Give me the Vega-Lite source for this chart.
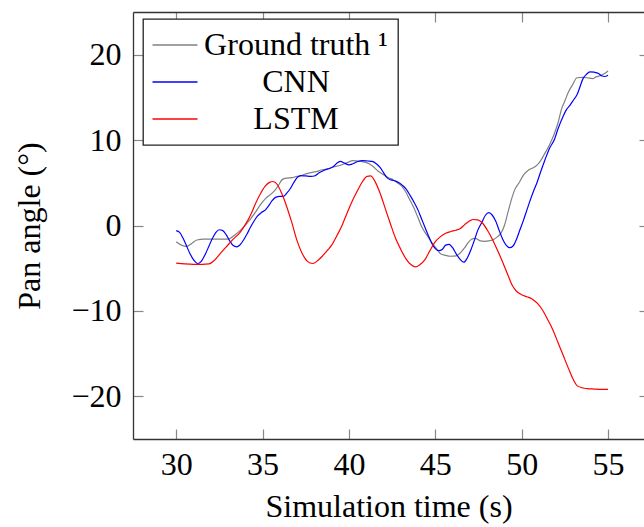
{
  "$schema": "https://vega.github.io/schema/vega-lite/v6.json",
  "width": 511,
  "height": 427,
  "autosize": {"type": "none"},
  "padding": {"left": 133, "top": 12, "right": 0, "bottom": 88},
  "background": "white",
  "config": {
    "view": {"stroke": null},
    "font": "Liberation Serif, Times New Roman, serif",
    "axis": {
      "grid": false,
      "labelFont": "Liberation Serif, Times New Roman, serif",
      "labelFontSize": 32,
      "labelColor": "black",
      "titleFont": "Liberation Serif, Times New Roman, serif",
      "titleFontSize": 32,
      "titleFontWeight": "normal",
      "titleColor": "black",
      "domainColor": "#333333",
      "domainWidth": 1.3,
      "tickColor": "#888888",
      "tickWidth": 1.2,
      "tickSize": -10
    },
    "legend": {
      "orient": "none",
      "legendX": 10,
      "legendY": 7,
      "fillColor": "white",
      "strokeColor": "#222222",
      "strokeWidth": 1.3,
      "padding": 10,
      "cornerRadius": 0,
      "symbolType": "M-2.25,0H2.25",
      "symbolSize": 400,
      "symbolStrokeWidth": 1.3,
      "symbolOffset": 6,
      "labelFont": "Liberation Serif, Times New Roman, serif",
      "labelFontSize": 32,
      "labelColor": "black",
      "labelAlign": "center",
      "labelOffset": 105,
      "labelLimit": 400,
      "rowPadding": 5
    }
  },
  "datasets": {
    "series": [
      {"t":30.0,"v":-1.9,"s":"Ground truth ¹"},{"t":30.3,"v":-2.3,"s":"Ground truth ¹"},{"t":30.6,"v":-2.45,"s":"Ground truth ¹"},{"t":30.9,"v":-2.1,"s":"Ground truth ¹"},{"t":31.2,"v":-1.7,"s":"Ground truth ¹"},{"t":31.6,"v":-1.6,"s":"Ground truth ¹"},{"t":32.0,"v":-1.6,"s":"Ground truth ¹"},{"t":32.5,"v":-1.6,"s":"Ground truth ¹"},{"t":33.0,"v":-1.6,"s":"Ground truth ¹"},{"t":33.4,"v":-1.1,"s":"Ground truth ¹"},{"t":33.8,"v":-0.4,"s":"Ground truth ¹"},{"t":34.2,"v":0.5,"s":"Ground truth ¹"},{"t":34.6,"v":1.6,"s":"Ground truth ¹"},{"t":34.9,"v":2.5,"s":"Ground truth ¹"},{"t":35.2,"v":3.2,"s":"Ground truth ¹"},{"t":35.5,"v":3.7,"s":"Ground truth ¹"},{"t":35.75,"v":4.2,"s":"Ground truth ¹"},{"t":35.95,"v":4.8,"s":"Ground truth ¹"},{"t":36.15,"v":5.4,"s":"Ground truth ¹"},{"t":36.4,"v":5.55,"s":"Ground truth ¹"},{"t":36.7,"v":5.6,"s":"Ground truth ¹"},{"t":37.0,"v":5.75,"s":"Ground truth ¹"},{"t":37.2,"v":5.8,"s":"Ground truth ¹"},{"t":37.5,"v":6.05,"s":"Ground truth ¹"},{"t":37.8,"v":6.2,"s":"Ground truth ¹"},{"t":38.1,"v":6.3,"s":"Ground truth ¹"},{"t":38.4,"v":6.5,"s":"Ground truth ¹"},{"t":38.7,"v":6.6,"s":"Ground truth ¹"},{"t":39.1,"v":6.85,"s":"Ground truth ¹"},{"t":39.4,"v":7.0,"s":"Ground truth ¹"},{"t":39.7,"v":7.2,"s":"Ground truth ¹"},{"t":40.0,"v":7.45,"s":"Ground truth ¹"},{"t":40.2,"v":7.6,"s":"Ground truth ¹"},{"t":40.5,"v":7.55,"s":"Ground truth ¹"},{"t":40.7,"v":7.5,"s":"Ground truth ¹"},{"t":41.1,"v":7.3,"s":"Ground truth ¹"},{"t":41.4,"v":6.9,"s":"Ground truth ¹"},{"t":41.7,"v":6.35,"s":"Ground truth ¹"},{"t":42.0,"v":5.95,"s":"Ground truth ¹"},{"t":42.3,"v":5.6,"s":"Ground truth ¹"},{"t":42.6,"v":5.3,"s":"Ground truth ¹"},{"t":42.8,"v":5.0,"s":"Ground truth ¹"},{"t":43.1,"v":4.5,"s":"Ground truth ¹"},{"t":43.3,"v":3.9,"s":"Ground truth ¹"},{"t":43.5,"v":3.1,"s":"Ground truth ¹"},{"t":43.75,"v":2.1,"s":"Ground truth ¹"},{"t":44.0,"v":0.9,"s":"Ground truth ¹"},{"t":44.2,"v":-0.1,"s":"Ground truth ¹"},{"t":44.5,"v":-1.1,"s":"Ground truth ¹"},{"t":44.8,"v":-2.0,"s":"Ground truth ¹"},{"t":45.1,"v":-2.8,"s":"Ground truth ¹"},{"t":45.3,"v":-3.3,"s":"Ground truth ¹"},{"t":45.6,"v":-3.5,"s":"Ground truth ¹"},{"t":45.9,"v":-3.6,"s":"Ground truth ¹"},{"t":46.2,"v":-3.55,"s":"Ground truth ¹"},{"t":46.45,"v":-3.2,"s":"Ground truth ¹"},{"t":46.7,"v":-2.6,"s":"Ground truth ¹"},{"t":46.9,"v":-2.0,"s":"Ground truth ¹"},{"t":47.1,"v":-1.6,"s":"Ground truth ¹"},{"t":47.3,"v":-1.5,"s":"Ground truth ¹"},{"t":47.6,"v":-1.8,"s":"Ground truth ¹"},{"t":47.85,"v":-1.85,"s":"Ground truth ¹"},{"t":48.1,"v":-1.8,"s":"Ground truth ¹"},{"t":48.4,"v":-1.6,"s":"Ground truth ¹"},{"t":48.6,"v":-1.3,"s":"Ground truth ¹"},{"t":48.8,"v":-0.9,"s":"Ground truth ¹"},{"t":49.0,"v":0.0,"s":"Ground truth ¹"},{"t":49.2,"v":1.5,"s":"Ground truth ¹"},{"t":49.4,"v":3.0,"s":"Ground truth ¹"},{"t":49.6,"v":4.2,"s":"Ground truth ¹"},{"t":49.85,"v":5.0,"s":"Ground truth ¹"},{"t":50.1,"v":5.9,"s":"Ground truth ¹"},{"t":50.4,"v":6.5,"s":"Ground truth ¹"},{"t":50.7,"v":6.8,"s":"Ground truth ¹"},{"t":50.9,"v":7.1,"s":"Ground truth ¹"},{"t":51.1,"v":7.6,"s":"Ground truth ¹"},{"t":51.3,"v":8.3,"s":"Ground truth ¹"},{"t":51.6,"v":9.4,"s":"Ground truth ¹"},{"t":51.9,"v":10.8,"s":"Ground truth ¹"},{"t":52.1,"v":12.0,"s":"Ground truth ¹"},{"t":52.3,"v":13.6,"s":"Ground truth ¹"},{"t":52.5,"v":14.6,"s":"Ground truth ¹"},{"t":52.7,"v":15.6,"s":"Ground truth ¹"},{"t":52.95,"v":16.5,"s":"Ground truth ¹"},{"t":53.2,"v":17.3,"s":"Ground truth ¹"},{"t":53.5,"v":17.35,"s":"Ground truth ¹"},{"t":53.8,"v":17.3,"s":"Ground truth ¹"},{"t":54.1,"v":17.2,"s":"Ground truth ¹"},{"t":54.3,"v":17.4,"s":"Ground truth ¹"},{"t":54.6,"v":17.6,"s":"Ground truth ¹"},{"t":54.8,"v":17.8,"s":"Ground truth ¹"},{"t":55.0,"v":18.1,"s":"Ground truth ¹"},
      {"t":30.0,"v":-0.6,"s":"CNN"},{"t":30.2,"v":-0.8,"s":"CNN"},{"t":30.4,"v":-1.5,"s":"CNN"},{"t":30.6,"v":-2.4,"s":"CNN"},{"t":30.8,"v":-3.3,"s":"CNN"},{"t":31.0,"v":-4.0,"s":"CNN"},{"t":31.25,"v":-4.45,"s":"CNN"},{"t":31.45,"v":-4.2,"s":"CNN"},{"t":31.7,"v":-3.3,"s":"CNN"},{"t":31.9,"v":-2.4,"s":"CNN"},{"t":32.1,"v":-1.5,"s":"CNN"},{"t":32.3,"v":-0.8,"s":"CNN"},{"t":32.5,"v":-0.5,"s":"CNN"},{"t":32.7,"v":-0.6,"s":"CNN"},{"t":32.9,"v":-1.1,"s":"CNN"},{"t":33.1,"v":-1.8,"s":"CNN"},{"t":33.3,"v":-2.35,"s":"CNN"},{"t":33.5,"v":-2.5,"s":"CNN"},{"t":33.7,"v":-2.25,"s":"CNN"},{"t":33.9,"v":-1.7,"s":"CNN"},{"t":34.1,"v":-1.0,"s":"CNN"},{"t":34.3,"v":-0.2,"s":"CNN"},{"t":34.5,"v":0.5,"s":"CNN"},{"t":34.7,"v":1.1,"s":"CNN"},{"t":34.95,"v":1.55,"s":"CNN"},{"t":35.15,"v":1.8,"s":"CNN"},{"t":35.35,"v":2.3,"s":"CNN"},{"t":35.55,"v":2.9,"s":"CNN"},{"t":35.75,"v":3.3,"s":"CNN"},{"t":36.0,"v":3.4,"s":"CNN"},{"t":36.2,"v":3.4,"s":"CNN"},{"t":36.4,"v":3.8,"s":"CNN"},{"t":36.6,"v":4.3,"s":"CNN"},{"t":36.8,"v":5.0,"s":"CNN"},{"t":37.0,"v":5.6,"s":"CNN"},{"t":37.2,"v":5.85,"s":"CNN"},{"t":37.5,"v":5.8,"s":"CNN"},{"t":37.8,"v":5.75,"s":"CNN"},{"t":38.0,"v":5.8,"s":"CNN"},{"t":38.3,"v":6.2,"s":"CNN"},{"t":38.6,"v":6.5,"s":"CNN"},{"t":38.9,"v":6.7,"s":"CNN"},{"t":39.1,"v":6.9,"s":"CNN"},{"t":39.3,"v":7.3,"s":"CNN"},{"t":39.5,"v":7.5,"s":"CNN"},{"t":39.75,"v":7.3,"s":"CNN"},{"t":40.0,"v":7.1,"s":"CNN"},{"t":40.2,"v":7.2,"s":"CNN"},{"t":40.5,"v":7.5,"s":"CNN"},{"t":40.8,"v":7.6,"s":"CNN"},{"t":41.1,"v":7.55,"s":"CNN"},{"t":41.35,"v":7.5,"s":"CNN"},{"t":41.6,"v":7.2,"s":"CNN"},{"t":41.8,"v":6.8,"s":"CNN"},{"t":42.0,"v":6.2,"s":"CNN"},{"t":42.2,"v":5.6,"s":"CNN"},{"t":42.4,"v":5.35,"s":"CNN"},{"t":42.7,"v":5.2,"s":"CNN"},{"t":42.9,"v":5.0,"s":"CNN"},{"t":43.1,"v":4.7,"s":"CNN"},{"t":43.3,"v":4.3,"s":"CNN"},{"t":43.55,"v":3.5,"s":"CNN"},{"t":43.8,"v":2.6,"s":"CNN"},{"t":44.0,"v":1.8,"s":"CNN"},{"t":44.2,"v":0.8,"s":"CNN"},{"t":44.4,"v":-0.2,"s":"CNN"},{"t":44.6,"v":-1.2,"s":"CNN"},{"t":44.8,"v":-2.1,"s":"CNN"},{"t":45.0,"v":-2.7,"s":"CNN"},{"t":45.2,"v":-2.95,"s":"CNN"},{"t":45.4,"v":-2.8,"s":"CNN"},{"t":45.6,"v":-2.3,"s":"CNN"},{"t":45.8,"v":-2.2,"s":"CNN"},{"t":46.0,"v":-2.6,"s":"CNN"},{"t":46.2,"v":-3.3,"s":"CNN"},{"t":46.45,"v":-4.0,"s":"CNN"},{"t":46.65,"v":-4.3,"s":"CNN"},{"t":46.85,"v":-3.8,"s":"CNN"},{"t":47.05,"v":-2.9,"s":"CNN"},{"t":47.25,"v":-1.8,"s":"CNN"},{"t":47.45,"v":-0.6,"s":"CNN"},{"t":47.7,"v":0.4,"s":"CNN"},{"t":47.9,"v":1.2,"s":"CNN"},{"t":48.1,"v":1.5,"s":"CNN"},{"t":48.3,"v":1.2,"s":"CNN"},{"t":48.5,"v":0.5,"s":"CNN"},{"t":48.7,"v":-0.6,"s":"CNN"},{"t":48.9,"v":-1.6,"s":"CNN"},{"t":49.1,"v":-2.3,"s":"CNN"},{"t":49.3,"v":-2.6,"s":"CNN"},{"t":49.5,"v":-2.4,"s":"CNN"},{"t":49.7,"v":-1.6,"s":"CNN"},{"t":49.9,"v":-0.5,"s":"CNN"},{"t":50.1,"v":0.6,"s":"CNN"},{"t":50.3,"v":1.8,"s":"CNN"},{"t":50.5,"v":3.0,"s":"CNN"},{"t":50.7,"v":4.1,"s":"CNN"},{"t":50.9,"v":5.1,"s":"CNN"},{"t":51.1,"v":6.3,"s":"CNN"},{"t":51.35,"v":7.7,"s":"CNN"},{"t":51.6,"v":9.0,"s":"CNN"},{"t":51.9,"v":10.1,"s":"CNN"},{"t":52.1,"v":11.3,"s":"CNN"},{"t":52.4,"v":12.8,"s":"CNN"},{"t":52.6,"v":13.6,"s":"CNN"},{"t":52.8,"v":14.1,"s":"CNN"},{"t":53.0,"v":14.7,"s":"CNN"},{"t":53.2,"v":15.3,"s":"CNN"},{"t":53.35,"v":16.1,"s":"CNN"},{"t":53.55,"v":17.2,"s":"CNN"},{"t":53.75,"v":17.7,"s":"CNN"},{"t":53.95,"v":18.0,"s":"CNN"},{"t":54.2,"v":17.95,"s":"CNN"},{"t":54.45,"v":17.8,"s":"CNN"},{"t":54.65,"v":17.5,"s":"CNN"},{"t":54.8,"v":17.45,"s":"CNN"},{"t":55.0,"v":17.6,"s":"CNN"},
      {"t":30.0,"v":-4.4,"s":"LSTM"},{"t":30.5,"v":-4.5,"s":"LSTM"},{"t":31.0,"v":-4.55,"s":"LSTM"},{"t":31.5,"v":-4.55,"s":"LSTM"},{"t":31.9,"v":-4.5,"s":"LSTM"},{"t":32.2,"v":-4.1,"s":"LSTM"},{"t":32.5,"v":-3.4,"s":"LSTM"},{"t":32.9,"v":-2.5,"s":"LSTM"},{"t":33.3,"v":-1.6,"s":"LSTM"},{"t":33.7,"v":-0.8,"s":"LSTM"},{"t":34.0,"v":0.1,"s":"LSTM"},{"t":34.3,"v":1.2,"s":"LSTM"},{"t":34.6,"v":2.6,"s":"LSTM"},{"t":34.9,"v":3.8,"s":"LSTM"},{"t":35.15,"v":4.6,"s":"LSTM"},{"t":35.4,"v":5.05,"s":"LSTM"},{"t":35.6,"v":5.15,"s":"LSTM"},{"t":35.85,"v":4.8,"s":"LSTM"},{"t":36.1,"v":3.8,"s":"LSTM"},{"t":36.4,"v":2.2,"s":"LSTM"},{"t":36.7,"v":0.3,"s":"LSTM"},{"t":37.0,"v":-1.8,"s":"LSTM"},{"t":37.3,"v":-3.3,"s":"LSTM"},{"t":37.6,"v":-4.2,"s":"LSTM"},{"t":37.9,"v":-4.45,"s":"LSTM"},{"t":38.2,"v":-4.1,"s":"LSTM"},{"t":38.5,"v":-3.5,"s":"LSTM"},{"t":38.8,"v":-2.8,"s":"LSTM"},{"t":39.0,"v":-2.3,"s":"LSTM"},{"t":39.3,"v":-1.2,"s":"LSTM"},{"t":39.6,"v":0.0,"s":"LSTM"},{"t":39.9,"v":1.5,"s":"LSTM"},{"t":40.2,"v":2.9,"s":"LSTM"},{"t":40.5,"v":4.1,"s":"LSTM"},{"t":40.8,"v":5.2,"s":"LSTM"},{"t":41.05,"v":5.75,"s":"LSTM"},{"t":41.25,"v":5.8,"s":"LSTM"},{"t":41.5,"v":5.2,"s":"LSTM"},{"t":41.8,"v":3.8,"s":"LSTM"},{"t":42.1,"v":2.0,"s":"LSTM"},{"t":42.4,"v":0.2,"s":"LSTM"},{"t":42.7,"v":-1.5,"s":"LSTM"},{"t":43.0,"v":-2.8,"s":"LSTM"},{"t":43.3,"v":-3.9,"s":"LSTM"},{"t":43.6,"v":-4.6,"s":"LSTM"},{"t":43.85,"v":-4.85,"s":"LSTM"},{"t":44.1,"v":-4.6,"s":"LSTM"},{"t":44.4,"v":-4.0,"s":"LSTM"},{"t":44.7,"v":-2.9,"s":"LSTM"},{"t":45.0,"v":-1.9,"s":"LSTM"},{"t":45.3,"v":-1.3,"s":"LSTM"},{"t":45.6,"v":-0.9,"s":"LSTM"},{"t":45.9,"v":-0.7,"s":"LSTM"},{"t":46.2,"v":-0.55,"s":"LSTM"},{"t":46.45,"v":-0.35,"s":"LSTM"},{"t":46.7,"v":0.1,"s":"LSTM"},{"t":47.0,"v":0.55,"s":"LSTM"},{"t":47.2,"v":0.7,"s":"LSTM"},{"t":47.45,"v":0.65,"s":"LSTM"},{"t":47.7,"v":0.35,"s":"LSTM"},{"t":48.0,"v":-0.5,"s":"LSTM"},{"t":48.3,"v":-1.6,"s":"LSTM"},{"t":48.6,"v":-2.9,"s":"LSTM"},{"t":48.9,"v":-4.3,"s":"LSTM"},{"t":49.2,"v":-5.8,"s":"LSTM"},{"t":49.45,"v":-7.0,"s":"LSTM"},{"t":49.7,"v":-7.7,"s":"LSTM"},{"t":50.0,"v":-8.1,"s":"LSTM"},{"t":50.3,"v":-8.35,"s":"LSTM"},{"t":50.6,"v":-8.6,"s":"LSTM"},{"t":50.9,"v":-9.1,"s":"LSTM"},{"t":51.2,"v":-9.9,"s":"LSTM"},{"t":51.5,"v":-11.0,"s":"LSTM"},{"t":51.8,"v":-12.2,"s":"LSTM"},{"t":52.1,"v":-13.7,"s":"LSTM"},{"t":52.4,"v":-15.2,"s":"LSTM"},{"t":52.7,"v":-16.7,"s":"LSTM"},{"t":53.0,"v":-18.1,"s":"LSTM"},{"t":53.2,"v":-18.75,"s":"LSTM"},{"t":53.5,"v":-19.0,"s":"LSTM"},{"t":53.8,"v":-19.1,"s":"LSTM"},{"t":54.2,"v":-19.15,"s":"LSTM"},{"t":54.6,"v":-19.2,"s":"LSTM"},{"t":55.0,"v":-19.2,"s":"LSTM"}
    ]
  },
  "data": {"name": "series"},
  "layer": [
    {
      "mark": {"type": "line", "strokeWidth": 1.2, "interpolate": "monotone", "clip": true},
      "encoding": {
        "x": {
          "field": "t", "type": "quantitative",
          "scale": {"domain": [27.5, 57.08], "nice": false, "zero": false},
          "axis": {"orient": "bottom", "values": [30, 35, 40, 45, 50, 55], "title": "Simulation time (s)", "labelPadding": 20, "titlePadding": 11}
        },
        "y": {
          "field": "v", "type": "quantitative",
          "scale": {"domain": [-25, 25], "nice": false, "zero": false},
          "axis": {"orient": "left", "values": [-20, -10, 0, 10, 20], "title": "Pan angle (°)", "labelPadding": 22, "titlePadding": 24}
        },
        "color": {
          "field": "s", "type": "nominal",
          "scale": {"domain": ["Ground truth ¹", "CNN", "LSTM"], "range": ["#808080", "#0000ff", "#ff0000"]},
          "legend": {"title": null}
        },
        "order": {"field": "t", "type": "quantitative"}
      }
    },
    {
      "mark": {"type": "line", "opacity": 0},
      "encoding": {
        "x": {
          "field": "t", "type": "quantitative",
          "axis": {"orient": "top", "values": [30, 35, 40, 45, 50, 55], "labels": false, "title": null}
        },
        "y": {
          "field": "v", "type": "quantitative",
          "axis": {"orient": "right", "values": [-20, -10, 0, 10, 20], "labels": false, "title": null, "domain": false, "tickSize": -5}
        },
        "detail": {"field": "s", "type": "nominal"}
      }
    }
  ],
  "resolve": {"axis": {"x": "independent", "y": "independent"}}
}
